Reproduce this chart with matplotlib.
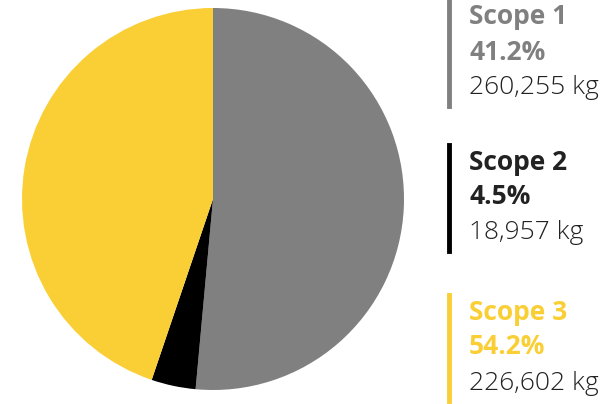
import matplotlib.pyplot as plt

labels = ['Scope 1', 'Scope 2', 'Scope 3']
percents = ['41.2%', '4.5%', '54.2%']
kg = [260255, 18957, 226602]
colors = ['#808080', '#000000', '#f9cf35']
text_colors = ['#808080', '#222222', '#f9cf35']

plt.rcParams['font.family'] = ['Open Sans', 'DejaVu Sans']

fig = plt.figure(figsize=(6.14, 4.04), dpi=100)
ax = fig.add_axes([22 / 614, 1 - 390 / 404, 382 / 614, 382 / 404])
ax.pie(kg, colors=colors, startangle=90, counterclock=False,
       wedgeprops={'linewidth': 0})
ax.set_xlim(-1, 1)
ax.set_ylim(-1, 1)
ax.set_aspect('equal')

tops = [0, 145, 295]
for i, lab in enumerate(labels):
    y0 = tops[i]
    fig.add_artist(plt.Line2D([449 / 614, 449 / 614],
                              [1 - y0 / 404, 1 - (y0 + 106) / 404],
                              color=colors[i], linewidth=3.5))
    fig.text(469 / 614, 1 - (y0 + 17) / 404, lab, color=text_colors[i],
             fontsize=19, fontweight='bold', va='center', ha='left')
    fig.text(469 / 614, 1 - (y0 + 52) / 404, percents[i], color=text_colors[i],
             fontsize=19, fontweight='bold', va='center', ha='left')
    fig.text(469 / 614, 1 - (y0 + 88) / 404, f'{kg[i]:,} kg', color='#222222',
             fontsize=19, fontweight='light', va='center', ha='left')

fig.savefig('out.png', dpi=100)
